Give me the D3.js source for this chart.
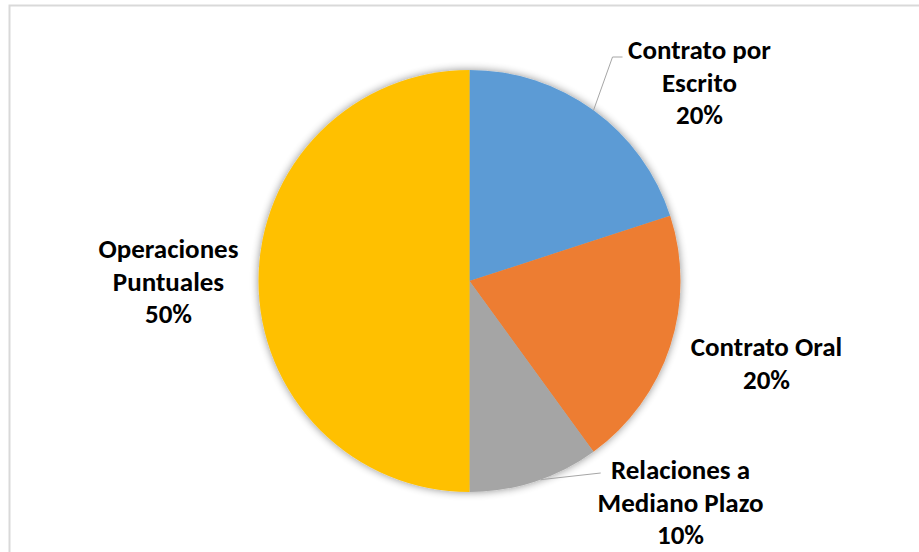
<!DOCTYPE html>
<html>
<head>
<meta charset="utf-8">
<script src="https://cdn.jsdelivr.net/npm/d3@7"></script>
<style>
  html, body { margin: 0; padding: 0; background: #fff; }
  svg { display: block; }
  .lbl { font-family: Carlito, Lato, "Open Sans", sans-serif; font-weight: 700; fill: #000; }
</style>
</head>
<body>
<svg id="chart" width="919" height="552"></svg>
<script>
// Tipos de relación comercial
const categories = ["Contrato por Escrito", "Contrato Oral", "Relaciones a Mediano Plazo", "Operaciones Puntuales"];
const values = [20, 20, 10, 50];
const labelLines = [
  ["Contrato por", "Escrito", "20%"],
  ["Contrato Oral", "20%"],
  ["Relaciones a", "Mediano Plazo", "10%"],
  ["Operaciones", "Puntuales", "50%"]
];
const colors = ["#5B9BD5", "#ED7D31", "#A5A5A5", "#FFC000"];

const W = 919, H = 552;
const cx = 469.5, cy = 281, R = 211;
const lineGap = 32.5;

// label anchor (centre of first line) relative to pie centre, and leader flag
const labelPos = [
  { dx: 230, dy: -231, leader: true },
  { dx: 297, dy: 66, leader: false },
  { dx: 211, dy: 189, leader: true },
  { dx: -301, dy: -32, leader: false }
];

const svg = d3.select("#chart");

// chart area frame
svg.append("rect")
  .attr("x", 9.5).attr("y", 5.5)
  .attr("width", W + 20).attr("height", H + 20)
  .attr("fill", "#fff").attr("stroke", "#d9d9d9").attr("stroke-width", 2);

const defs = svg.append("defs");
const f = defs.append("filter").attr("id", "soft")
  .attr("x", "-20%").attr("y", "-20%").attr("width", "140%").attr("height", "140%");
f.append("feGaussianBlur").attr("in", "SourceAlpha").attr("stdDeviation", 4).attr("result", "b");
f.append("feComponentTransfer").attr("in", "b").attr("result", "s")
  .append("feFuncA").attr("type", "linear").attr("slope", 0.45);
const m = f.append("feMerge");
m.append("feMergeNode").attr("in", "s");
m.append("feMergeNode").attr("in", "SourceGraphic");

const pie = d3.pie().sort(null).value(d => d)(values);
const arc = d3.arc().innerRadius(0).outerRadius(R);

const g = svg.append("g").attr("transform", `translate(${cx},${cy})`);

g.append("g").attr("filter", "url(#soft)")
  .selectAll("path").data(pie).join("path")
  .attr("d", arc)
  .attr("fill", (d, i) => colors[i]);

// leader lines
const edge = d3.arc().innerRadius(R).outerRadius(R);
pie.forEach((d, i) => {
  const lp = labelPos[i];
  if (!lp.leader) return;
  const [ex, ey] = edge.centroid(d);
  let pts;
  if (i === 0) {
    pts = [[ex, ey], [ex + 19, lp.dy + 7], [ex + 29, lp.dy + 7]];
  } else {
    pts = [[ex + 6, ey - 2], [ex + 66, lp.dy + 3]];
  }
  g.append("path")
    .attr("d", d3.line()(pts))
    .attr("fill", "none").attr("stroke", "#a6a6a6").attr("stroke-width", 1);
});

// data labels
labelLines.forEach((lines, i) => {
  const lp = labelPos[i];
  const t = g.append("text").attr("class", "lbl")
    .attr("text-anchor", "middle")
    .attr("font-size", 27);
  lines.forEach((s, k) => {
    t.append("tspan")
      .attr("x", lp.dx)
      .attr("y", lp.dy + k * lineGap)
      .attr("dy", "0.35em")
      .text(s);
  });
});
</script>
</body>
</html>
